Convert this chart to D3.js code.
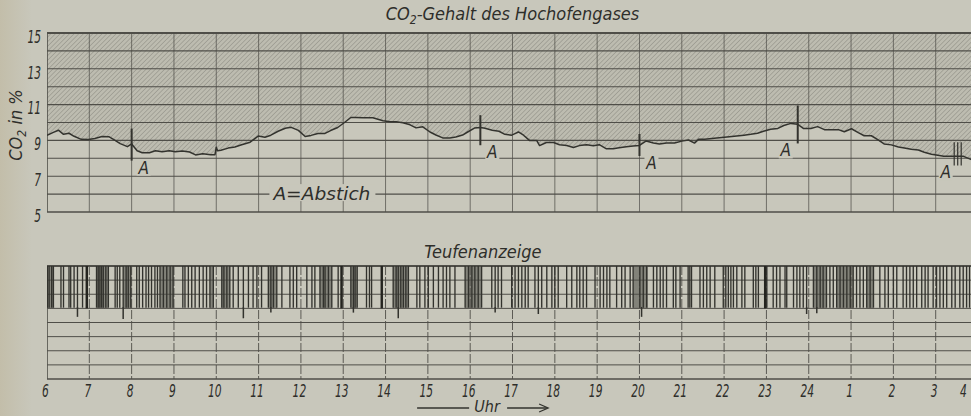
<!DOCTYPE html>
<html><head><meta charset="utf-8">
<script src="https://cdn.jsdelivr.net/npm/d3@7"></script>
<style>
html,body{margin:0;padding:0;background:#c8c7bb;}
svg{display:block;}
text{font-family:"DejaVu Sans Condensed","DejaVu Sans",sans-serif;font-style:italic;fill:#2e2e2a;}
</style></head><body>
<svg id="chart" width="971" height="416"></svg>
<script>
// CO2 trace of the blast-furnace top gas (hours, 25 = 1 o'clock next day)
const co2Hours = [6.00,6.15,6.27,6.39,6.52,6.64,6.81,6.98,7.13,7.30,7.46,7.58,7.73,7.90,8.00,8.13,8.25,8.42,8.56,8.72,8.89,
  9.03,9.20,9.37,9.51,9.68,9.87,9.97,10.00,10.03,10.11,10.28,10.44,10.58,10.80,10.99,11.15,11.29,11.46,11.63,11.77,11.94,
  12.10,12.24,12.40,12.57,12.70,12.87,13.03,13.18,13.30,13.46,13.70,13.94,14.11,14.25,14.41,14.58,14.72,14.88,
  15.05,15.19,15.35,15.52,15.66,15.82,15.94,16.10,16.24,16.35,16.52,16.68,16.82,16.98,17.02,17.14,17.26,17.40,17.57,17.64,17.80,17.97,
  18.11,18.28,18.44,18.58,18.75,18.91,19.05,19.22,19.38,19.52,19.69,19.85,20.00,20.16,20.33,20.47,20.64,20.83,
  21.00,21.16,21.30,21.40,21.54,21.77,22.01,22.24,22.47,22.63,22.79,22.93,23.10,23.27,23.41,23.58,23.74,23.88,
  24.05,24.21,24.37,24.54,24.70,24.84,25.01,25.17,25.31,25.48,25.64,25.78,25.95,26.12,26.26,26.42,26.59,26.73,26.90,
  27.05,27.19,27.36,27.52,27.66,27.83,28.00];
const co2Values = [9.29,9.45,9.57,9.34,9.40,9.23,9.06,9.05,9.11,9.22,9.21,9.04,8.82,8.65,8.80,8.42,8.31,8.31,8.42,8.36,8.42,
  8.36,8.41,8.35,8.19,8.25,8.20,8.20,8.62,8.42,8.45,8.57,8.63,8.74,8.90,9.24,9.18,9.29,9.51,9.68,9.73,9.56,
  9.22,9.28,9.39,9.39,9.55,9.72,10.00,10.28,10.28,10.27,10.27,10.10,10.04,10.04,9.99,9.87,9.70,9.76,
  9.47,9.30,9.14,9.14,9.19,9.30,9.47,9.69,9.72,9.68,9.57,9.51,9.34,9.29,9.34,9.47,9.29,9.00,9.00,8.71,8.88,8.88,
  8.76,8.71,8.60,8.71,8.76,8.70,8.76,8.53,8.53,8.59,8.64,8.69,8.72,8.97,8.85,8.80,8.85,8.85,
  8.96,9.02,8.85,9.07,9.07,9.12,9.17,9.23,9.29,9.34,9.40,9.51,9.62,9.67,9.83,9.95,9.90,9.66,
  9.66,9.77,9.60,9.60,9.60,9.48,9.65,9.43,9.26,9.26,9.03,8.80,8.75,8.63,8.57,8.51,8.46,8.34,8.23,
  8.17,8.12,8.11,8.11,8.11,7.94,7.90];

// Tapping events (Abstich): time, excursion top and bottom
const tapHours = [8.00,16.24,20.00,23.74,27.52];
const tapHigh  = [9.66,10.41,9.36,10.95,8.90];
const tapLow   = [7.87,8.73,8.13,8.83,7.60];
const tapMarks = [1,1,1,1,3];
const tapLabel = "A";

const co2Ticks = [5,7,9,11,13,15];
const hourTicks = d3.range(6,29);
const hourLabel = h => String(h > 24 ? h - 24 : h);

// Depth indicator (Teufenanzeige): recorder strokes, dense stretches and downward tails (in grid rows)
const teufeStrokes = [6.01,6.05,6.11,6.15,6.33,6.39,6.52,6.56,6.64,6.72,6.84,6.94,
  7.17,7.21,7.25,7.29,7.33,7.39,7.45,7.61,7.66,7.72,7.80,7.87,7.92,7.98,
  8.12,8.18,8.26,8.34,8.40,8.47,8.55,8.61,8.67,8.75,8.83,8.91,8.98,
  9.21,9.26,9.34,9.42,9.50,9.60,9.69,9.77,9.85,9.93,
  10.13,10.18,10.25,10.32,10.40,10.52,10.64,10.76,10.87,10.96,
  11.07,11.23,11.29,11.35,11.43,11.55,11.74,11.82,11.90,
  12.14,12.26,12.33,12.45,12.53,12.57,12.65,12.73,12.88,12.96,
  13.18,13.24,13.28,13.33,13.55,13.62,13.67,13.91,
  14.18,14.25,14.30,14.36,14.42,14.48,14.54,14.74,14.81,14.93,
  15.01,15.13,15.25,15.36,15.44,15.52,15.64,15.88,15.96,
  16.04,16.11,16.19,16.27,16.51,16.59,16.66,16.74,16.98,
  17.06,17.14,17.22,17.30,17.37,17.53,17.61,17.69,17.81,17.93,
  18.00,18.08,18.28,18.40,18.52,18.59,18.67,18.75,18.95,
  19.07,19.15,19.23,19.30,19.46,19.58,19.66,19.78,19.85,
  20.01,20.09,20.17,20.33,20.41,20.49,20.56,20.64,20.80,20.86,20.96,
  21.15,21.19,21.23,21.43,21.51,21.59,21.67,21.78,21.98,
  22.04,22.10,22.16,22.22,22.30,22.42,22.49,22.69,22.75,22.81,22.97,
  23.01,23.16,23.24,23.32,23.44,23.48,23.64,23.72,23.79,23.87,23.95,
  24.11,24.19,24.27,24.34,24.42,24.50,24.58,24.66,24.74,24.82,24.90,24.98,
  25.05,25.13,25.21,25.29,25.37,25.45,25.53,25.68,25.80,25.88,
  26.00,26.08,26.23,26.31,26.39,26.47,26.55,26.67,26.75,26.82,26.94,
  27.02,27.10,27.18,27.26,27.38,27.46,27.57,27.65,27.73,27.80];
const teufeHeavy = [6.94,12.96,13.91,22.97];
const teufeDenseStart = [6.00,7.17,7.80,8.67,9.85,10.13,11.23,12.45,13.18,14.18,15.88,19.85,24.11,24.66,25.37];
const teufeDenseEnd   = [6.17,7.45,7.98,8.98,9.93,10.32,11.43,12.73,13.33,14.54,16.27,20.20,24.42,25.05,25.53];
const teufeTailHours = [6.72,7.80,10.64,13.24,14.30,17.61,20.05,23.95,24.19,11.29,16.59];
const teufeTailRows  = [3.6,3.75,3.7,3.3,3.7,3.4,3.6,3.4,3.35,3.3,3.3];

const W = 971, H = 416;
const paper = "#c8c7bb", ink = "#33332e", grid = "#4f4e48";
const svg = d3.select("#chart");

const x = d3.scaleLinear().domain([6,27]).range([47,935.7]);
const yC = d3.scaleLinear().domain([5,15]).range([212,33]);
const yR = d3.scaleLinear().domain([0,8]).range([266,379]);

const defs = svg.append("defs");
const pat = defs.append("pattern").attr("id","hatch").attr("patternUnits","userSpaceOnUse")
  .attr("width",3.3).attr("height",3.3).attr("patternTransform","rotate(45)");
pat.append("rect").attr("width",3.3).attr("height",3.3).attr("fill","#bdbcb0");
pat.append("line").attr("x1",0).attr("y1",0).attr("x2",0).attr("y2",3.3)
  .attr("stroke","#8f8e84").attr("stroke-width",1.1);
const lg = defs.append("linearGradient").attr("id","edge").attr("x1",0).attr("x2",1);
lg.append("stop").attr("offset",0).attr("stop-color","#bcb294").attr("stop-opacity",0.45);
lg.append("stop").attr("offset",1).attr("stop-color","#bcb294").attr("stop-opacity",0);
defs.append("clipPath").attr("id","plot").append("rect").attr("x",47).attr("y",0).attr("width",W-47).attr("height",H);

svg.append("rect").attr("width",W).attr("height",H).attr("fill",paper);
svg.append("rect").attr("width",32).attr("height",H).attr("fill","url(#edge)");

const data = co2Hours.map((h,i)=>({h, v: co2Values[i]}));

// ---- upper panel: CO2 content ----
const topG = svg.append("g").attr("clip-path","url(#plot)");
topG.append("path").datum(data)
  .attr("d", d3.area().x(d=>x(d.h)).y0(yC(15)).y1(d=>yC(d.v)))
  .attr("fill","url(#hatch)");

topG.selectAll(".hg").data(d3.range(5,16)).join("line")
  .attr("x1",x(6)).attr("x2",W).attr("y1",d=>yC(d)).attr("y2",d=>yC(d))
  .attr("stroke",grid).attr("stroke-width",d=>d===15?1.8:(d===5?1.4:1.1));
topG.selectAll(".vg").data(hourTicks).join("line")
  .attr("x1",d=>x(d)).attr("x2",d=>x(d)).attr("y1",yC(15)).attr("y2",yC(5))
  .attr("stroke",grid).attr("stroke-width",d=>d===6?1.6:0.9).attr("opacity",d=>d===6?1:0.8);

topG.append("path").datum(data)
  .attr("d", d3.line().x(d=>x(d.h)).y(d=>yC(d.v)))
  .attr("fill","none").attr("stroke",ink).attr("stroke-width",1.5).attr("stroke-linejoin","round");

tapHours.forEach((h,i)=>{
  const n = tapMarks[i];
  for (let k=0;k<n;k++){
    const xx = x(h) + (k-(n-1)/2)*3.5;
    topG.append("line").attr("x1",xx).attr("x2",xx).attr("y1",yC(tapHigh[i])).attr("y2",yC(tapLow[i]))
      .attr("stroke",ink).attr("stroke-width",n>1?1.2:2);
  }
});

// "A" marks next to each tapping
const labelSide = [1,1,1,-1,-1];
tapHours.forEach((h,i)=>{
  const lx = x(h) + labelSide[i]*12, ly = yC(tapLow[i]) + 13;
  topG.append("rect").attr("x",lx-7).attr("y",ly-13).attr("width",14).attr("height",15).attr("fill",paper);
  topG.append("text").attr("x",lx).attr("y",ly).attr("text-anchor","middle")
    .attr("font-size",17).text(tapLabel);
});

// legend on the 6 % line
const legX = x(11.35), legY = yC(6);
topG.append("rect").attr("x",legX-4).attr("y",legY-10).attr("width",106).attr("height",17).attr("fill",paper);
topG.append("text").attr("x",legX).attr("y",legY+6).attr("font-size",17)
  .attr("textLength",97).attr("lengthAdjust","spacingAndGlyphs").text("A=Abstich");

// narrow digits, as in the drafting lettering
const narrow = sel => sel.each(function(){
  const t = d3.select(this);
  t.attr("textLength", 6.8 * t.text().length).attr("lengthAdjust","spacingAndGlyphs");
});

const yAx = svg.append("g").attr("transform",`translate(${x(6)},0)`)
  .call(d3.axisLeft(yC).tickValues(co2Ticks).tickSize(0).tickPadding(6));
yAx.select(".domain").remove();
yAx.selectAll("text").attr("font-size",17).attr("dy","0.55em").attr("fill","#2e2e2a")
  .attr("font-family",null).style("font-style","italic").call(narrow);

const yt = svg.append("text").attr("transform","translate(22,125) rotate(-90)")
  .attr("text-anchor","middle").attr("font-size",18);
yt.append("tspan").text("CO");
yt.append("tspan").attr("font-size",12).attr("dy",4).text("2");
yt.append("tspan").attr("dy",-4).text(" in %");

const tt = svg.append("text").attr("x",x(17.0)).attr("y",20).attr("text-anchor","middle")
  .attr("font-size",18);
tt.append("tspan").text("CO");
tt.append("tspan").attr("font-size",12).attr("dy",4).text("2");
tt.append("tspan").attr("dy",-4).text("-Gehalt des Hochofengases");

// ---- lower panel: depth indicator ----
const botG = svg.append("g").attr("clip-path","url(#plot)");
botG.selectAll(".hr").data(d3.range(0,9)).join("line")
  .attr("x1",x(6)).attr("x2",W).attr("y1",d=>yR(d)).attr("y2",d=>yR(d))
  .attr("stroke",grid).attr("stroke-width",d=>d===0?1.8:(d===8?1.4:1));
botG.selectAll(".vr").data(hourTicks).join("line")
  .attr("x1",d=>x(d)).attr("x2",d=>x(d)).attr("y1",yR(0)).attr("y2",yR(8))
  .attr("stroke",grid).attr("stroke-width",d=>d===6?1.6:0.9)
  .attr("stroke-dasharray",d=>d===6?null:"9,2");
botG.selectAll(".dense").data(teufeDenseStart).join("rect")
  .attr("x",(d,i)=>x(d)).attr("width",(d,i)=>x(teufeDenseEnd[i])-x(d))
  .attr("y",yR(0)).attr("height",yR(3)-yR(0)).attr("fill","#54534c").attr("opacity",0.6);
botG.selectAll(".st").data(teufeStrokes).join("line")
  .attr("x1",d=>x(d)).attr("x2",d=>x(d)).attr("y1",yR(0)).attr("y2",yR(2.95))
  .attr("stroke","#32322d").attr("stroke-width",1.35);
botG.selectAll(".hv").data(teufeHeavy).join("line")
  .attr("x1",d=>x(d)).attr("x2",d=>x(d)).attr("y1",yR(0)).attr("y2",yR(3))
  .attr("stroke","#24241f").attr("stroke-width",2.4);
botG.selectAll(".tl").data(teufeTailHours).join("line")
  .attr("x1",d=>x(d)).attr("x2",d=>x(d)).attr("y1",yR(2.9)).attr("y2",(d,i)=>yR(teufeTailRows[i]))
  .attr("stroke","#32322d").attr("stroke-width",1.5);

svg.append("text").attr("x",x(16.3)).attr("y",258).attr("text-anchor","middle")
  .attr("font-size",18).text("Teufenanzeige");

const xAx = svg.append("g").attr("transform",`translate(-2,${yR(8)})`)
  .call(d3.axisBottom(x).tickValues(hourTicks).tickFormat(hourLabel).tickSize(0).tickPadding(6));
xAx.select(".domain").remove();
xAx.selectAll("text").attr("font-size",17).attr("fill","#2e2e2a")
  .attr("font-family",null).style("font-style","italic").call(narrow);
// keep the last hour label inside the sheet edge
xAx.selectAll(".tick").filter(d => x(d) - 2 + 4 > W).select("text")
  .attr("dx", d => (W - 8) - (x(d) - 2));

// time arrow
const ux = x(16.4), uy = 407;
svg.append("line").attr("x1",ux-70).attr("x2",ux-18).attr("y1",uy+1).attr("y2",uy+1).attr("stroke",ink).attr("stroke-width",1.3);
svg.append("text").attr("x",ux).attr("y",uy+5).attr("text-anchor","middle").attr("font-size",16).text("Uhr");
svg.append("line").attr("x1",ux+20).attr("x2",ux+60).attr("y1",uy+1).attr("y2",uy+1).attr("stroke",ink).attr("stroke-width",1.3);
svg.append("path").attr("d",`M${ux+52},${uy-3} L${ux+61},${uy+1} L${ux+52},${uy+5}`)
  .attr("fill","none").attr("stroke",ink).attr("stroke-width",1.3);
</script></body></html>
